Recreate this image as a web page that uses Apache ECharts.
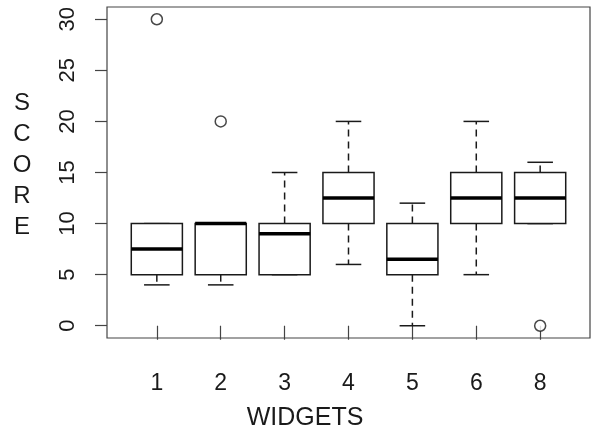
<!DOCTYPE html>
<html>
<head>
<meta charset="utf-8">
<script src="https://cdn.jsdelivr.net/npm/echarts@6/dist/echarts.min.js"></script>
<style>
html,body{margin:0;padding:0;background:#fff;}
#chart{width:595px;height:434px;}
</style>
</head>
<body>
<div id="chart"></div>
<script>
// Data
const categories = ['1', '2', '3', '4', '5', '6', '8'];
const whiskerLow = [4, 4, 5, 6, 0, 5, 10];
const q1 = [5, 5, 5, 10, 5, 10, 10];
const median = [7.5, 10, 9, 12.5, 6.5, 12.5, 12.5];
const q3 = [10, 10, 10, 15, 10, 15, 15];
const whiskerHigh = [10, 10, 15, 20, 12, 20, 16];
const outlierGroup = ['1', '2', '8'];
const outlierValue = [30, 20, 0];
const yTicks = [0, 5, 10, 15, 20, 25, 30];

const boxData = categories.map((c, i) => [i + 1, whiskerLow[i], q1[i], median[i], q3[i], whiskerHigh[i]]);
const outlierData = outlierGroup.map((g, i) => [categories.indexOf(g) + 1, outlierValue[i]]);
const xTickPos = categories.map((c, i) => i + 1);

const ink = '#1a1a1a';
const FONT = 'Liberation Sans';
const chart = echarts.init(document.getElementById('chart'));
chart.setOption({
  animation: false,
  backgroundColor: '#fff',
  textStyle: { fontFamily: FONT },
  grid: { left: 107, top: 7, right: 5, bottom: 96, show: true, borderColor: '#444', borderWidth: 1.2, backgroundColor: 'transparent' },
  xAxis: {
    type: 'value', min: 0.22, max: 7.78,
    axisLine: { show: false },
    splitLine: { show: false },
    axisTick: { show: true, length: 14, customValues: xTickPos, lineStyle: { color: '#444', width: 1.2 } },
    axisLabel: { customValues: xTickPos, margin: 34, fontSize: 23, color: ink, fontFamily: FONT,
      formatter: v => categories[Math.round(v) - 1] }
  },
  yAxis: {
    type: 'value', min: -1.2, max: 31.2,
    axisLine: { show: false },
    splitLine: { show: false },
    axisTick: { show: true, length: 12, customValues: yTicks, lineStyle: { color: '#444', width: 1.2 } },
    axisLabel: { customValues: yTicks, rotate: 90, margin: 28, fontSize: 22, color: ink, fontFamily: FONT }
  },
  graphic: [
    { type: 'text', x: 22, y: 165, style: { text: 'S\nC\nO\nR\nE', font: '24px "Liberation Sans"', fill: ink, align: 'center', verticalAlign: 'middle', lineHeight: 31 } },
    { type: 'text', x: 305, y: 418, style: { text: 'WIDGETS', font: '25px "Liberation Sans"', fill: ink, align: 'center', verticalAlign: 'middle' } }
  ],
  series: [
    {
      type: 'custom',
      data: boxData,
      encode: { x: 0, y: [1, 2, 3, 4, 5] },
      renderItem: function (params, api) {
        const x = api.value(0);
        const lo = api.coord([x, api.value(1)]);
        const b1 = api.coord([x, api.value(2)]);
        const md = api.coord([x, api.value(3)]);
        const b3 = api.coord([x, api.value(4)]);
        const hi = api.coord([x, api.value(5)]);
        const bw = api.size([0.8, 0])[0];
        const cw = api.size([0.4, 0])[0];
        const cx = md[0];
        const ls = { stroke: ink, lineWidth: 1.5, fill: null };
        const dash = { stroke: ink, lineWidth: 1.5, lineDash: [7, 5], fill: null };
        return {
          type: 'group',
          children: [
            { type: 'line', shape: { x1: cx, y1: b1[1], x2: cx, y2: lo[1] }, style: dash },
            { type: 'line', shape: { x1: cx, y1: b3[1], x2: cx, y2: hi[1] }, style: dash },
            { type: 'line', shape: { x1: cx - cw / 2, y1: lo[1], x2: cx + cw / 2, y2: lo[1] }, style: ls },
            { type: 'line', shape: { x1: cx - cw / 2, y1: hi[1], x2: cx + cw / 2, y2: hi[1] }, style: ls },
            { type: 'rect', shape: { x: cx - bw / 2, y: b3[1], width: bw, height: b1[1] - b3[1] }, style: { stroke: ink, lineWidth: 1.5, fill: '#fff' } },
            { type: 'line', shape: { x1: cx - bw / 2, y1: md[1], x2: cx + bw / 2, y2: md[1] }, style: { stroke: '#000', lineWidth: 3.5 } }
          ]
        };
      }
    },
    {
      type: 'scatter',
      data: outlierData,
      symbol: 'circle',
      symbolSize: 11,
      itemStyle: { color: '#fff', borderColor: ink, borderWidth: 1.5 }
    }
  ]
});
</script>
</body>
</html>
